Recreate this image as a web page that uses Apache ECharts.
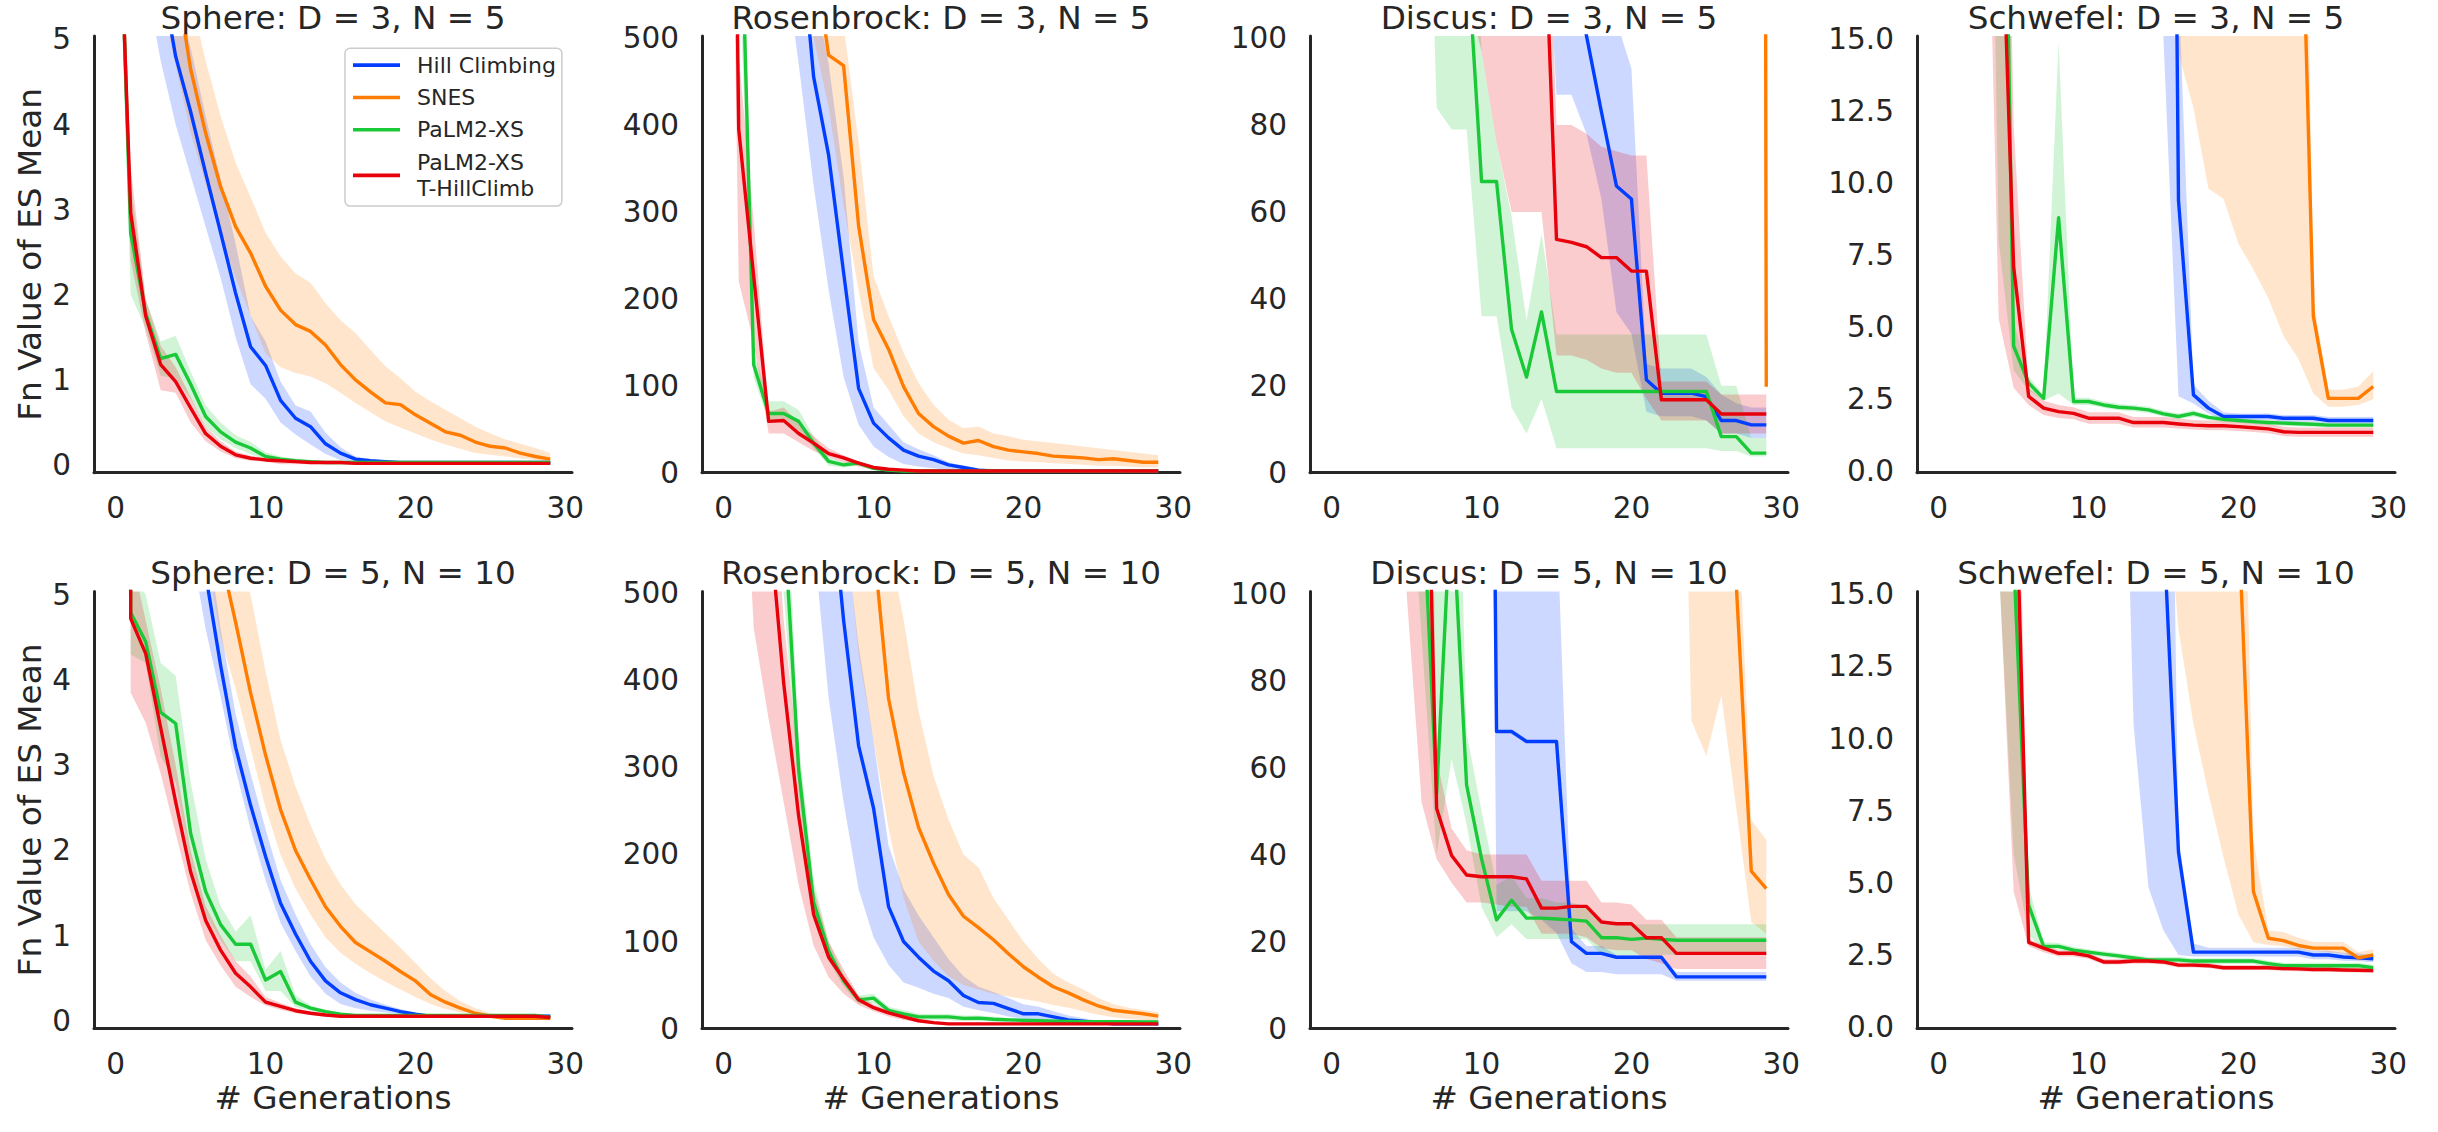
<!DOCTYPE html>
<html><head><meta charset="utf-8">
<script src="https://cdn.jsdelivr.net/npm/echarts@6/dist/echarts.min.js"></script>
<style>html,body{margin:0;padding:0;background:#fff}#chart{width:2438px;height:1132px}</style>
</head><body><div id="chart"></div>
<script>
const generations = [0,1,2,3,4,5,6,7,8,9,10,11,12,13,14,15,16,17,18,19,20,21,22,23,24,25,26,27,28,29];
const seriesNames = ['Hill Climbing', 'SNES', 'PaLM2-XS', 'PaLM2-XS\nT-HillClimb'];
const seriesColors = ['#023eff', '#ff7c00', '#1ac938', '#e8000b'];
const bandColors = ['rgba(2,62,255,0.2)', 'rgba(255,124,0,0.2)', 'rgba(26,201,56,0.2)', 'rgba(232,0,11,0.2)'];
const xTickValues = [0, 10, 20, 30];

// ---- Sphere: D = 3, N = 5
const sph3_hc    = [9.5,8.2,6.9,5.8,4.8,4.15,3.43,2.73,2.02,1.39,1.17,0.76,0.55,0.45,0.25,0.14,0.07,0.05,0.04,0.03,0.03,0.03,0.03,0.03,0.03,0.03,0.03,0.03,0.03,0.03];
const sph3_hc_lo = [8.5,7.2,5.7,4.75,4.0,3.4,2.8,2.2,1.5,0.95,0.78,0.5,0.36,0.24,0.13,0.06,0.03,0.02,0.02,0.02,0.02,0.02,0.02,0.02,0.02,0.02,0.02,0.02,0.02,0.02];
const sph3_hc_hi = [10.5,9.2,8.0,6.8,5.6,4.9,4.1,3.35,2.6,1.75,1.45,0.98,0.7,0.63,0.38,0.21,0.1,0.07,0.05,0.04,0.04,0.04,0.04,0.04,0.04,0.04,0.04,0.04,0.04,0.04];
const sph3_snes    = [9,8.2,7.3,6.5,5.76,4.65,3.9,3.27,2.8,2.49,2.1,1.82,1.65,1.57,1.41,1.18,1.0,0.86,0.73,0.71,0.59,0.49,0.39,0.35,0.27,0.22,0.2,0.14,0.1,0.07];
const sph3_snes_lo = [8,7.2,6.3,5.5,4.7,3.9,3.3,2.7,2.2,1.75,1.31,1.15,1.08,1.04,0.96,0.85,0.73,0.62,0.51,0.44,0.37,0.3,0.24,0.19,0.14,0.12,0.1,0.08,0.06,0.04];
const sph3_snes_hi = [10,9.2,8.3,7.2,6.3,5.5,4.75,4.1,3.55,3.15,2.73,2.45,2.25,2.14,1.9,1.7,1.55,1.35,1.16,1.02,0.86,0.75,0.65,0.55,0.45,0.37,0.3,0.25,0.2,0.14];
const sph3_palm    = [8.27,2.72,1.78,1.25,1.3,0.95,0.57,0.39,0.27,0.2,0.1,0.07,0.05,0.04,0.03,0.03,0.03,0.03,0.03,0.03,0.03,0.03,0.03,0.03,0.03,0.03,0.03,0.03,0.03,0.03];
const sph3_palm_lo = [7.5,2.0,1.6,1.05,1.02,0.78,0.45,0.3,0.2,0.13,0.06,0.04,0.03,0.02,0.02,0.02,0.02,0.02,0.02,0.02,0.02,0.02,0.02,0.02,0.02,0.02,0.02,0.02,0.02,0.02];
const sph3_palm_hi = [9,3.3,1.95,1.45,1.52,1.1,0.7,0.5,0.35,0.27,0.15,0.1,0.07,0.05,0.04,0.04,0.04,0.04,0.04,0.04,0.04,0.04,0.04,0.04,0.04,0.04,0.04,0.04,0.04,0.04];
const sph3_thc    = [7.94,2.96,1.75,1.18,0.98,0.67,0.37,0.22,0.12,0.08,0.06,0.05,0.04,0.03,0.03,0.03,0.02,0.02,0.02,0.02,0.02,0.02,0.02,0.02,0.02,0.02,0.02,0.02,0.02,0.02];
const sph3_thc_lo = [7.2,2.4,1.55,0.88,0.85,0.5,0.28,0.16,0.08,0.05,0.04,0.01,0.01,0.01,0.01,0.01,0.01,0.01,0.01,0.01,0.01,0.01,0.01,0.01,0.01,0.01,0.01,0.01,0.01,0.01];
const sph3_thc_hi = [8.6,3.5,1.95,1.4,1.15,0.8,0.45,0.28,0.16,0.11,0.08,0.07,0.06,0.05,0.04,0.04,0.04,0.04,0.04,0.04,0.04,0.04,0.04,0.04,0.04,0.04,0.04,0.04,0.04,0.04];

// ---- Rosenbrock: D = 3, N = 5
const ros3_hc    = [2500,2000,1500,1100,850,643,455,365,230,97,57,40,26,19,15,9,6,3,2,2,2,2,2,2,2,2,2,2,2,2];
const ros3_hc_lo = [2000,1600,1200,850,600,470,330,210,110,55,30,18,10,7,5,3,2,1,1,1,1,1,1,1,1,1,1,1,1,1];
const ros3_hc_hi = [3000,2400,1800,1350,1000,820,560,470,340,150,75,55,35,27,20,12,8,5,3,3,3,3,3,3,3,3,3,3,3,3];
const ros3_snes    = [3000,2500,2000,1500,1100,800,600,480,468,284,176,142,99,68,53,42,34,37,30,26,24,22,19,18,17,15,16,14,12,12];
const ros3_snes_lo = [2500,2000,1500,1100,800,620,500,420,307,210,120,95,65,45,35,28,22,20,17,14,13,12,11,10,9,8,8,7,6,6];
const ros3_snes_hi = [3500,3000,2500,1900,1400,1000,750,560,515,380,226,180,138,103,78,61,51,53,45,42,38,36,34,32,30,28,26,24,22,20];
const ros3_palm    = [1500,757,124,68,68,59,34,13,9,11,5,3,2,2,2,2,2,2,2,2,2,2,2,2,2,2,2,2,2,2];
const ros3_palm_lo = [1200,600,110,58,60,48,28,8,6,8,3,1,1,1,1,1,1,1,1,1,1,1,1,1,1,1,1,1,1,1];
const ros3_palm_hi = [1800,900,140,82,82,72,42,18,12,14,7,5,3,3,3,3,3,3,3,3,3,3,3,3,3,3,3,3,3,3];
const ros3_thc    = [1757,395,226,59,60,45,34,22,17,11,6,4,3,2,2,2,2,2,2,2,2,2,2,2,2,2,2,2,2,2];
const ros3_thc_lo = [1400,220,150,45,45,35,25,18,12,7,3,2,1,1,1,1,1,1,1,1,1,1,1,1,1,1,1,1,1,1];
const ros3_thc_hi = [2100,480,290,70,75,58,42,28,20,13,7,5,4,3,3,3,3,3,3,3,3,3,3,3,3,3,3,3,3,3];

// ---- Discus: D = 3, N = 5
const dis3_hc    = [1000,900,800,700,600,520,450,390,330,280,240,200,170,150,135,125,118,100.6,83,66,63,21.4,18.3,18.3,18.3,17.5,12,12,11,11];
const dis3_hc_lo = [900,800,700,600,500,420,360,310,270,240,220,200,180,165,150,87,87,78,63,37,32,14,13,13,13,12,9,9,8,8];
const dis3_hc_hi = [1200,1100,1000,900,800,700,600,520,450,400,350,300,260,230,200,180,160,140,120,104,93,25,24,24,24,22,18,16,15,15];
const dis3_snes    = [9000,8500,8000,7500,7000,6500,6000,5500,5000,4600,4200,3900,3600,3300,3000,2800,2600,2500,2400,2300,2200,2100,2050,2000,2000,2000,2000,2000,2000,19.8];
const dis3_snes_lo = [7000,6600,6200,5800,5400,5000,4600,4200,3800,3500,3200,2900,2600,2400,2200,2000,1900,1800,1700,1600,1500,1500,1500,1500,1500,1500,1500,1500,1500,18];
const dis3_snes_hi = [11000,10500,10000,9500,9000,8500,8000,7500,7000,6500,6000,5500,5000,4600,4200,3900,3600,3300,3100,2900,2800,2700,2600,2500,2500,2500,2500,2500,2500,22];
const dis3_palm    = [900,700,550,420,330,260,200,160,140,123,67,67,33,22,37,18.7,18.7,18.7,18.7,18.7,18.7,18.7,18.7,18.7,18.7,18.7,8.3,8.3,4.5,4.5];
const dis3_palm_lo = [700,500,380,330,290,260,200,84,79,79,36,36,15,9,17,5.6,5.6,5.6,5.6,5.6,5.6,5.6,5.6,5.6,5.6,5.6,5,5,3.7,3.7];
const dis3_palm_hi = [1100,900,700,550,430,340,270,220,190,170,97,76,59,35,55,31.8,31.8,31.8,31.8,31.8,31.8,31.8,31.8,31.8,31.8,31.8,20,20,8,8];
const dis3_thc    = [1000,850,700,580,480,400,340,290,250,220,195,180,165,155,147.7,53.7,53,52,49.5,49.5,46.4,46.4,16.8,16.8,16.8,16.8,13.5,13.5,13.5,13.5];
const dis3_thc_lo = [700,600,500,400,320,250,200,160,130,110,97,76,60,60,60,27,27,26,24,23,23,17,12,12,12,12,9,9,9,9];
const dis3_thc_hi = [1300,1100,900,750,620,520,440,380,330,290,260,240,220,200,180,80,80,78,75,74,73,73,21,21,21,21,18,18,18,18];

// ---- Schwefel: D = 3, N = 5
const sch3_hc    = [300,280,260,240,220,200,180,160,140,120,110,100,90,80,70,67,9.4,2.65,2.19,1.9,1.9,1.9,1.9,1.84,1.84,1.84,1.76,1.76,1.76,1.76];
const sch3_hc_lo = [250,230,210,190,170,150,130,115,100,90,80,70,60,50,40,15,2.6,2.35,2.0,1.78,1.78,1.78,1.78,1.72,1.72,1.72,1.66,1.66,1.66,1.66];
const sch3_hc_hi = [350,330,310,290,270,250,230,210,190,170,150,130,110,100,90,80,17,3.0,2.45,2.05,2.0,2.0,2.0,1.95,1.95,1.95,1.88,1.88,1.88,1.88];
const sch3_snes    = [400,380,360,340,320,300,280,260,240,220,200,180,160,140,120,100,90,80,70,60,50,42,35,30,24.9,5.38,2.53,2.53,2.53,2.94];
const sch3_snes_lo = [300,280,260,240,220,200,180,160,140,120,100,80,60,45,30,18,14.5,12.6,9.8,9.45,7.9,7.0,6.0,4.7,3.9,2.7,2.24,2.24,2.3,2.5];
const sch3_snes_hi = [600,570,540,510,480,450,420,390,360,330,300,270,240,210,180,160,140,120,100,90,80,70,60,50,40,6.0,2.83,2.83,2.94,3.47];
const sch3_palm    = [150,110,80,55,35,4.34,3.06,2.53,8.8,2.42,2.42,2.3,2.22,2.19,2.13,1.99,1.9,2.01,1.87,1.8,1.76,1.72,1.69,1.67,1.65,1.63,1.6,1.6,1.6,1.6];
const sch3_palm_lo = [110,80,60,40,8,3.5,2.8,2.45,2.7,2.3,2.3,2.2,2.12,2.08,2.02,1.9,1.8,1.9,1.78,1.72,1.68,1.64,1.6,1.58,1.56,1.54,1.52,1.52,1.52,1.52];
const sch3_palm_hi = [200,150,110,80,60,5.2,3.3,2.62,14.9,2.55,2.55,2.42,2.33,2.3,2.24,2.1,2.0,2.12,1.96,1.89,1.84,1.8,1.77,1.75,1.73,1.71,1.68,1.68,1.68,1.68];
const sch3_thc    = [120,90,60,40,23.2,7.1,2.6,2.19,2.07,2.01,1.84,1.84,1.84,1.69,1.69,1.69,1.64,1.6,1.58,1.58,1.55,1.51,1.47,1.37,1.35,1.35,1.35,1.35,1.35,1.35];
const sch3_thc_lo = [90,70,45,28,5.3,2.9,2.3,1.95,1.85,1.8,1.65,1.65,1.65,1.52,1.52,1.52,1.48,1.45,1.42,1.42,1.4,1.36,1.32,1.22,1.2,1.2,1.2,1.2,1.2,1.2];
const sch3_thc_hi = [150,110,80,55,40,12,2.9,2.45,2.3,2.22,2.05,2.05,2.05,1.88,1.88,1.88,1.83,1.78,1.76,1.76,1.72,1.68,1.64,1.54,1.52,1.52,1.52,1.52,1.52,1.52];

// ---- Sphere: D = 5, N = 10
const sph5_hc    = [20,15,11,9,7.5,6.5,5.24,4.17,3.21,2.53,1.93,1.38,1.02,0.7,0.47,0.33,0.25,0.19,0.15,0.11,0.08,0.055,0.055,0.055,0.055,0.055,0.055,0.055,0.055,0.055];
const sph5_hc_lo = [18,13,10,8,6.5,5.6,4.6,3.8,2.95,2.25,1.65,1.15,0.82,0.52,0.32,0.2,0.15,0.12,0.1,0.08,0.06,0.04,0.04,0.04,0.04,0.04,0.04,0.04,0.04,0.04];
const sph5_hc_hi = [22,17,12,10,8.5,7.3,5.8,4.6,3.6,2.9,2.25,1.65,1.25,0.9,0.63,0.45,0.33,0.25,0.19,0.14,0.1,0.07,0.07,0.07,0.07,0.07,0.07,0.07,0.07,0.07];
const sph5_snes    = [30,22,16,12,9.5,7.8,6.5,5.46,4.68,3.85,3.12,2.48,2.0,1.66,1.34,1.11,0.92,0.81,0.7,0.58,0.47,0.31,0.22,0.15,0.09,0.055,0.03,0.03,0.03,0.03];
const sph5_snes_lo = [25,18,13,10,8,6.6,5.5,4.5,3.9,3.2,2.5,1.95,1.55,1.25,0.98,0.8,0.67,0.56,0.46,0.37,0.28,0.2,0.14,0.1,0.07,0.05,0.02,0.02,0.02,0.02];
const sph5_snes_hi = [35,26,19,14,11,9.2,7.6,6.4,5.6,5.0,4.1,3.3,2.75,2.3,1.9,1.6,1.37,1.2,1.03,0.86,0.68,0.5,0.35,0.23,0.15,0.09,0.06,0.05,0.05,0.05];
const sph5_palm    = [100,4.79,4.45,3.62,3.49,2.2,1.52,1.13,0.9,0.9,0.48,0.58,0.22,0.15,0.11,0.08,0.064,0.064,0.064,0.064,0.064,0.064,0.064,0.064,0.064,0.064,0.064,0.064,0.064,0.04];
const sph5_palm_lo = [80,4.3,4.2,3.1,2.8,1.85,1.25,0.95,0.7,0.7,0.35,0.35,0.16,0.12,0.09,0.05,0.05,0.05,0.05,0.05,0.05,0.05,0.05,0.05,0.05,0.05,0.05,0.05,0.05,0.05];
const sph5_palm_hi = [120,5.3,5.0,4.2,4.05,2.8,1.9,1.35,1.05,1.24,0.6,0.82,0.3,0.18,0.13,0.1,0.08,0.08,0.08,0.08,0.08,0.08,0.08,0.08,0.08,0.08,0.08,0.08,0.08,0.08];
const sph5_thc    = [100,4.72,4.31,3.44,2.57,1.75,1.18,0.83,0.56,0.4,0.22,0.17,0.12,0.09,0.07,0.055,0.055,0.055,0.055,0.055,0.055,0.055,0.055,0.055,0.055,0.055,0.055,0.055,0.055,0.04];
const sph5_thc_lo = [80,3.85,3.5,2.9,2.2,1.5,0.95,0.65,0.4,0.28,0.18,0.13,0.09,0.07,0.05,0.04,0.04,0.04,0.04,0.04,0.04,0.04,0.04,0.04,0.04,0.04,0.04,0.04,0.04,0.04];
const sph5_thc_hi = [120,5.5,4.7,3.9,3.0,2.0,1.35,1.0,0.7,0.52,0.28,0.21,0.15,0.11,0.09,0.07,0.07,0.07,0.07,0.07,0.07,0.07,0.07,0.07,0.07,0.07,0.07,0.07,0.07,0.07];

// ---- Rosenbrock: D = 5, N = 10
const ros5_hc    = [3000,2500,2000,1600,1300,1050,850,644,469,325,253,140,100,82,66,55,38,30,29,23,17,17,13.5,10,8.6,6.8,5.4,5.4,5.4,5.4];
const ros5_hc_lo = [2500,2000,1600,1300,1100,900,560,380,260,160,105,73,53,47,40,35,25,21,18,14,11,10,8,6,5,4,4,4,4,4];
const ros5_hc_hi = [3500,3000,2500,2000,1600,1300,1000,800,590,440,330,210,160,130,105,80,60,48,42,35,28,25,20,15,12,9,7,6.5,6.5,6.5];
const ros5_snes    = [4000,3500,3000,2500,2000,1600,1300,1000,800,650,557,379,294,231,190,154,129,116,102,86,71,59,48,41,33,26,21,19,17,14.4];
const ros5_snes_lo = [3500,3000,2500,2000,1600,1300,1000,800,600,430,330,230,150,100,78,60,50,45,40,37,34,31,27,24,20,16,13,11,10,9];
const ros5_snes_hi = [5000,4500,4000,3500,3000,2500,2000,1600,1200,900,700,560,470,365,290,240,200,185,150,125,100,80,63,53,45,35,28,24,21,19];
const ros5_palm    = [1800,1400,1000,780,592,298,145,89,55,33,35,21,17,13.5,13.5,13.5,11.7,12,10.8,10,9.5,9,8.5,8.2,8,7.9,7.8,7.8,7.7,7.7];
const ros5_palm_lo = [1500,1100,800,600,500,270,125,78,48,28,29,17,13,10,10,10,8.5,9,8,7.5,7,6.8,6.5,6.3,6.2,6.1,6,6,6,6];
const ros5_palm_hi = [2100,1700,1200,950,700,330,170,100,62,38,40,25,21,17,17,17,15,15,13.5,12.5,12,11.5,11,10.5,10,9.8,9.6,9.5,9.5,9.5];
const ros5_thc    = [1500,1100,800,592,397,244,131,82,57,33,24,18,13.5,9,6.8,5.4,5.4,5.4,5.4,5.4,5.4,5.4,5.4,5.4,5.4,5.4,5.4,5.4,5.4,5.4];
const ros5_thc_lo = [1100,800,460,355,260,165,95,59,40,27,20,14,10,7,5,4,4,4,4,4,4,4,4,4,4,4,4,4,4,4];
const ros5_thc_hi = [1900,1400,1000,720,470,300,160,100,68,38,28,20,15,10,8,6.5,6.5,6.5,6.5,6.5,6.5,6.5,6.5,6.5,6.5,6.5,6.5,6.5,6.5,6.5];

// ---- Discus: D = 5, N = 10
const dis5_hc    = [3000,2500,2000,1600,1300,1000,800,650,550,480,430,68.3,68.3,66,66,66,20,17.3,17.3,16.4,16.4,16.4,16.4,11.9,11.9,11.9,11.9,11.9,11.9,11.9];
const dis5_hc_lo = [2500,2000,1600,1300,1000,800,650,550,480,440,400,27,27,27,25,22,15,13,13,12.5,12.5,12.5,12.5,11,11,11,11,11,11,11];
const dis5_hc_hi = [3500,3000,2500,2000,1600,1300,1000,800,700,620,560,500,450,400,350,120,23,19,19,17,17,17,17,13,13,13,13,13,13,13];
const dis5_snes    = [9000,8500,8000,7500,7000,6500,6000,5500,5000,4500,4000,3600,3200,2800,2400,2000,1700,1400,1200,1000,850,700,600,500,400,250,160,102,36.2,32.2];
const dis5_snes_lo = [7000,6500,6000,5500,5000,4500,4000,3600,3200,2800,2400,2000,1700,1400,1200,1000,800,650,500,400,330,280,240,220,70.8,62.7,76.6,50.6,24.5,21.8];
const dis5_snes_hi = [11000,10500,10000,9500,9000,8500,8000,7500,7000,6500,6000,5500,5000,4500,4000,3500,3000,2600,2200,1900,1600,1400,1200,1000,800,600,400,130,47.9,43.4];
const dis5_palm    = [1500,1100,800,500,300,180,128,54,123.5,56,39,25,29.5,25.4,25.4,25.2,25,24.7,20.9,20.9,20.5,20.8,20.5,20.3,20.3,20.3,20.3,20.3,20.3,20.3];
const dis5_palm_lo = [1200,900,600,400,250,140,90,40,62,47,28,21,24,20.6,20.6,20.6,20.6,20.6,17,17,17,17,17,17,17,17,17,17,17,17];
const dis5_palm_hi = [1800,1400,1000,700,450,300,200,105,200,68,50,33,35,30,30,29,29,28,24,24,24,24,24,24,24,24,24,24,24,24];
const dis5_thc    = [2000,1500,1000,700,450,300,193,50.6,39.8,35.3,34.9,34.9,34.9,34.4,27.7,27.7,28.1,28.1,24.5,24.1,24.1,20.9,20.9,17.3,17.3,17.3,17.3,17.3,17.3,17.3];
const dis5_thc_lo = [1500,1100,700,450,200,100,52,39,33.5,29,29,28.5,28,28,21.8,21.8,21.8,21,18.5,18,18,16,15,13.7,13.7,13.7,13.7,13.7,13.7,13.7];
const dis5_thc_hi = [2500,2000,1400,1000,650,450,300,62,46,41,40,40,40,40,34,34,34,34,29,29,28.5,25,25,21,21,21,21,21,21,21];

// ---- Schwefel: D = 5, N = 10
const sch5_hc    = [400,330,270,220,180,150,120,100,85,72,62,55,45,30,22,17.4,6.06,2.6,2.6,2.6,2.6,2.6,2.6,2.6,2.6,2.5,2.5,2.43,2.4,2.37];
const sch5_hc_lo = [300,250,200,160,130,100,80,65,55,47,40,35,30,10.5,4.84,3.35,2.5,2.45,2.45,2.45,2.45,2.45,2.45,2.45,2.45,2.35,2.35,2.3,2.28,2.25];
const sch5_hc_hi = [500,420,350,290,240,200,170,140,120,100,85,75,65,50,45,42,6.6,2.9,2.75,2.75,2.75,2.75,2.75,2.75,2.75,2.65,2.65,2.58,2.55,2.5];
const sch5_snes    = [400,350,300,260,220,190,160,135,115,100,85,72,60,50,42,36,30,26,22,20,17.7,4.7,3.08,3.0,2.83,2.74,2.74,2.74,2.4,2.5];
const sch5_snes_lo = [300,260,220,190,160,130,110,90,75,60,48,38,32,28,24,20,13.8,10.5,8.1,5.9,3.9,2.94,2.85,2.8,2.7,2.65,2.6,2.55,2.3,2.35];
const sch5_snes_hi = [500,450,400,350,300,260,220,190,160,140,120,100,85,72,60,50,44,38,34,32,30,6.5,3.35,3.3,3.1,2.95,2.95,2.95,2.6,2.7];
const sch5_palm    = [120,90,60,35,22,16.3,4.23,2.8,2.8,2.67,2.6,2.53,2.47,2.4,2.33,2.33,2.33,2.29,2.29,2.29,2.29,2.29,2.2,2.13,2.13,2.13,2.13,2.13,2.13,2.06];
const sch5_palm_lo = [90,70,45,28,16,6,3.2,2.65,2.68,2.56,2.5,2.43,2.37,2.3,2.23,2.23,2.23,2.19,2.19,2.19,2.19,2.19,2.1,2.03,2.03,2.03,2.03,2.03,2.03,1.96];
const sch5_palm_hi = [150,120,80,50,30,22,4.9,2.95,2.92,2.78,2.7,2.63,2.57,2.5,2.43,2.43,2.43,2.39,2.39,2.39,2.39,2.39,2.3,2.23,2.23,2.23,2.23,2.23,2.23,2.16];
const sch5_thc    = [200,150,100,60,35,21.9,2.94,2.74,2.56,2.56,2.47,2.26,2.26,2.29,2.29,2.26,2.15,2.15,2.13,2.06,2.06,2.06,2.06,2.03,2.02,2.0,2.0,1.98,1.97,1.96];
const sch5_thc_lo = [150,110,70,40,16.3,4.7,2.8,2.6,2.45,2.45,2.37,2.17,2.17,2.2,2.2,2.17,2.07,2.07,2.05,1.98,1.98,1.98,1.98,1.95,1.94,1.92,1.92,1.9,1.89,1.88];
const sch5_thc_hi = [250,200,130,80,50,30,3.05,2.85,2.66,2.66,2.57,2.36,2.36,2.39,2.39,2.36,2.24,2.24,2.22,2.15,2.15,2.15,2.15,2.12,2.11,2.09,2.09,2.07,2.06,2.05];

const sphereTicks = [0,1,2,3,4,5];
const rosenTicks = [0,100,200,300,400,500];
const discusTicks = [0,20,40,60,80,100];
const schwefelTicks = [0,2.5,5,7.5,10,12.5,15];

const panels = [
  {title:'Sphere: D = 3, N = 5', yMin:-0.09, yMax:5.04, ticks:sphereTicks, dec:0,
   s:[[sph3_hc,sph3_hc_lo,sph3_hc_hi],[sph3_snes,sph3_snes_lo,sph3_snes_hi],[sph3_palm,sph3_palm_lo,sph3_palm_hi],[sph3_thc,sph3_thc_lo,sph3_thc_hi]]},
  {title:'Rosenbrock: D = 3, N = 5', yMin:0, yMax:502, ticks:rosenTicks, dec:0,
   s:[[ros3_hc,ros3_hc_lo,ros3_hc_hi],[ros3_snes,ros3_snes_lo,ros3_snes_hi],[ros3_palm,ros3_palm_lo,ros3_palm_hi],[ros3_thc,ros3_thc_lo,ros3_thc_hi]]},
  {title:'Discus: D = 3, N = 5', yMin:0, yMax:100.5, ticks:discusTicks, dec:0,
   s:[[dis3_hc,dis3_hc_lo,dis3_hc_hi],[dis3_snes,dis3_snes_lo,dis3_snes_hi],[dis3_palm,dis3_palm_lo,dis3_palm_hi],[dis3_thc,dis3_thc_lo,dis3_thc_hi]]},
  {title:'Schwefel: D = 3, N = 5', yMin:-0.05, yMax:15.1, ticks:schwefelTicks, dec:1,
   s:[[sch3_hc,sch3_hc_lo,sch3_hc_hi],[sch3_snes,sch3_snes_lo,sch3_snes_hi],[sch3_palm,sch3_palm_lo,sch3_palm_hi],[sch3_thc,sch3_thc_lo,sch3_thc_hi]]},
  {title:'Sphere: D = 5, N = 10', yMin:-0.09, yMax:5.04, ticks:sphereTicks, dec:0,
   s:[[sph5_hc,sph5_hc_lo,sph5_hc_hi],[sph5_snes,sph5_snes_lo,sph5_snes_hi],[sph5_palm,sph5_palm_lo,sph5_palm_hi],[sph5_thc,sph5_thc_lo,sph5_thc_hi]]},
  {title:'Rosenbrock: D = 5, N = 10', yMin:0, yMax:502, ticks:rosenTicks, dec:0,
   s:[[ros5_hc,ros5_hc_lo,ros5_hc_hi],[ros5_snes,ros5_snes_lo,ros5_snes_hi],[ros5_palm,ros5_palm_lo,ros5_palm_hi],[ros5_thc,ros5_thc_lo,ros5_thc_hi]]},
  {title:'Discus: D = 5, N = 10', yMin:0, yMax:100.5, ticks:discusTicks, dec:0,
   s:[[dis5_hc,dis5_hc_lo,dis5_hc_hi],[dis5_snes,dis5_snes_lo,dis5_snes_hi],[dis5_palm,dis5_palm_lo,dis5_palm_hi],[dis5_thc,dis5_thc_lo,dis5_thc_hi]]},
  {title:'Schwefel: D = 5, N = 10', yMin:-0.05, yMax:15.1, ticks:schwefelTicks, dec:1,
   s:[[sch5_hc,sch5_hc_lo,sch5_hc_hi],[sch5_snes,sch5_snes_lo,sch5_snes_hi],[sch5_palm,sch5_palm_lo,sch5_palm_hi],[sch5_thc,sch5_thc_lo,sch5_thc_hi]]}
];

// layout
const FONT = 'DejaVu Sans';
const TEXT = '#262626';
const colLeft = [94, 702, 1310, 1917];
const colWidth = 478;
const rowTop = [36, 591.4];
const rowHeight = [436.7, 437.2];
const titleY = [18.3, 572.7];

const grids = [], xAxes = [], yAxes = [], series = [], graphics = [];

panels.forEach((p, i) => {
  const row = i < 4 ? 0 : 1, col = i % 4;
  grids.push({left: colLeft[col], top: rowTop[row], width: colWidth, height: rowHeight[row], containLabel: false});
  xAxes.push({
    gridIndex: i, type: 'value', min: -1.45, max: 30.45,
    axisLine: {show: true, onZero: false, lineStyle: {color: TEXT, width: 3}},
    axisTick: {show: false}, splitLine: {show: false},
    axisLabel: {customValues: xTickValues, margin: 20, fontSize: 29.5, color: TEXT, fontFamily: FONT, showMinLabel: true, showMaxLabel: true}
  });
  yAxes.push({
    gridIndex: i, type: 'value', min: p.yMin, max: p.yMax,
    axisLine: {show: true, onZero: false, lineStyle: {color: TEXT, width: 3}},
    axisTick: {show: false}, splitLine: {show: false},
    axisLabel: {customValues: p.ticks, margin: 23, fontSize: 29.5, color: TEXT, fontFamily: FONT,
      showMinLabel: true, showMaxLabel: true,
      formatter: v => p.dec ? Number(v).toFixed(1) : String(Math.round(v))}
  });
  // bands (drawn under all lines)
  p.s.forEach((trip, k) => {
    const lo = trip[1], hi = trip[2];
    series.push({
      type: 'custom', name: 'band' + i + '_' + k, xAxisIndex: i, yAxisIndex: i,
      clip: true, silent: true, z: 1,
      data: generations.map((g, j) => [g, lo[j], hi[j]]),
      encode: {x: 0, y: [1, 2]},
      renderItem: (params, api) => {
        if (params.dataIndex !== 0) return null;
        const pts = [];
        for (let j = 0; j < generations.length; j++) pts.push(api.coord([generations[j], hi[j]]));
        for (let j = generations.length - 1; j >= 0; j--) pts.push(api.coord([generations[j], lo[j]]));
        return {type: 'polygon', shape: {points: pts}, style: {fill: bandColors[k], stroke: null}};
      }
    });
  });
  p.s.forEach((trip, k) => {
    series.push({
      type: 'line', name: seriesNames[k], xAxisIndex: i, yAxisIndex: i,
      data: generations.map((g, j) => [g, trip[0][j]]),
      showSymbol: false, symbol: 'none', clip: true, silent: true, z: 3 + k,
      lineStyle: {width: 3.4, color: seriesColors[k], join: 'round'},
      itemStyle: {color: seriesColors[k]}
    });
  });
  graphics.push({type: 'text', x: colLeft[col] + colWidth / 2, y: titleY[row], silent: true,
    style: {text: p.title, fontSize: 32.7, fontFamily: FONT, fill: TEXT, align: 'center', verticalAlign: 'middle'}});
  if (row === 1) {
    graphics.push({type: 'text', x: colLeft[col] + colWidth / 2, y: 1097.7, silent: true,
      style: {text: '# Generations', fontSize: 32.7, fontFamily: FONT, fill: TEXT, align: 'center', verticalAlign: 'middle'}});
  }
  if (col === 0) {
    graphics.push({type: 'text', x: 29.7, y: rowTop[row] + rowHeight[row] / 2, rotation: Math.PI / 2, silent: true,
      style: {text: 'Fn Value of ES Mean', fontSize: 32.7, fontFamily: FONT, fill: TEXT, align: 'center', verticalAlign: 'middle'}});
  }
});

const chart = echarts.init(document.getElementById('chart'), null, {renderer: 'svg', width: 2438, height: 1132});
chart.setOption({
  animation: false,
  backgroundColor: '#ffffff',
  grid: grids, xAxis: xAxes, yAxis: yAxes, series: series, graphic: graphics,
  legend: {
    orient: 'vertical', left: 345, top: 48.3, selectedMode: false,
    padding: [3.5, 6, 4, 8], itemGap: 5.6, itemWidth: 47, itemHeight: 3.6,
    backgroundColor: 'rgba(255,255,255,0.8)', borderColor: '#cccccc', borderWidth: 1.5, borderRadius: 5,
    textStyle: {fontSize: 22, lineHeight: 26.7, fontFamily: FONT, color: TEXT, padding: [0, 0, 0, 12]},
    data: seriesNames.map(n => ({name: n, icon: 'rect'}))
  }
});
</script>
</body></html>
